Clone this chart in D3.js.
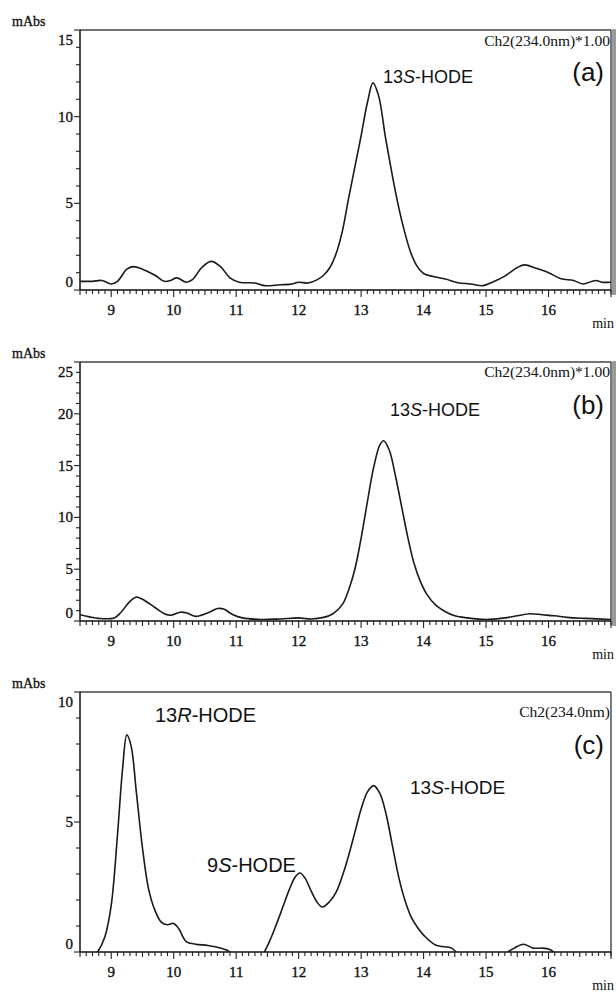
<!DOCTYPE html>
<html>
<head>
<meta charset="utf-8">
<script src="https://cdn.jsdelivr.net/npm/d3@7"></script>
<style>
  body { margin: 0; background: #fff; }
  svg { display: block; }
</style>
</head>
<body>
<div id="chart"></div>
<script>
// Chromatogram data (retention time in min, absorbance in mAbs)
const timesA  = [8.5, 8.7, 8.85, 9.0, 9.1, 9.25, 9.35, 9.5, 9.7, 9.85, 9.95, 10.05, 10.2, 10.3, 10.45, 10.6, 10.75, 10.9, 11.05, 11.3, 11.45, 11.7, 11.9, 12.0, 12.15, 12.3, 12.4, 12.5, 12.6, 12.7, 12.8, 12.9, 13.0, 13.1, 13.19, 13.28, 13.39, 13.5, 13.6, 13.7, 13.8, 13.9, 14.0, 14.15, 14.35, 14.55, 14.75, 14.95, 15.1, 15.3, 15.5, 15.62, 15.8, 16.0, 16.2, 16.4, 16.55, 16.75, 16.85, 17.0];
const valuesA = [0.5, 0.5, 0.55, 0.35, 0.5, 1.2, 1.35, 1.2, 0.85, 0.5, 0.55, 0.7, 0.45, 0.6, 1.3, 1.65, 1.35, 0.7, 0.45, 0.4, 0.25, 0.3, 0.35, 0.45, 0.4, 0.6, 0.85, 1.3, 2.1, 3.4, 5.3, 7.1, 8.9, 10.8, 11.95, 11.2, 8.8, 6.6, 4.8, 3.3, 2.1, 1.35, 0.95, 0.78, 0.63, 0.42, 0.35, 0.25, 0.45, 0.8, 1.3, 1.45, 1.25, 1.0, 0.65, 0.55, 0.35, 0.55, 0.45, 0.45];

const timesB  = [8.5, 8.65, 8.8, 9.05, 9.15, 9.3, 9.4, 9.5, 9.7, 9.85, 9.95, 10.1, 10.2, 10.35, 10.55, 10.7, 10.8, 10.95, 11.1, 11.4, 11.7, 12.0, 12.2, 12.4, 12.55, 12.7, 12.8, 12.9, 13.0, 13.1, 13.2, 13.3, 13.36, 13.45, 13.55, 13.65, 13.75, 13.85, 13.95, 14.05, 14.2, 14.35, 14.5, 14.7, 15.0, 15.3, 15.5, 15.7, 15.9, 16.1, 16.3, 16.6, 17.0];
const valuesB = [0.6, 0.4, 0.25, 0.3, 0.8, 1.9, 2.3, 2.1, 1.3, 0.7, 0.55, 0.85, 0.8, 0.45, 0.8, 1.2, 1.15, 0.6, 0.3, 0.15, 0.2, 0.3, 0.2, 0.35, 0.7, 1.6, 3.0, 5.0, 8.0, 11.5, 14.8, 17.0, 17.4, 16.5, 14.0, 11.0, 8.0, 5.5, 3.8, 2.6, 1.5, 0.9, 0.5, 0.3, 0.15, 0.3, 0.5, 0.7, 0.6, 0.5, 0.35, 0.25, 0.15];

const timesC  = [8.5, 8.7, 8.78, 8.9, 9.0, 9.1, 9.18, 9.25, 9.32, 9.4, 9.5, 9.6, 9.7, 9.8, 9.9, 10.0, 10.08, 10.2, 10.35, 10.55, 10.75, 10.9, 11.0, 11.3, 11.45, 11.55, 11.65, 11.75, 11.85, 11.95, 12.02, 12.1, 12.2, 12.3, 12.38, 12.5, 12.6, 12.75, 12.9, 13.0, 13.1, 13.2, 13.3, 13.4, 13.5, 13.6, 13.7, 13.8, 13.9, 14.0, 14.19, 14.45, 14.52, 14.6, 15.2, 15.35, 15.45, 15.6, 15.75, 15.9, 16.02, 16.08, 16.2, 17.0];
const valuesC = [-0.5, -0.2, 0, 0.6, 1.8, 4.5, 7.0, 8.35, 7.9, 6.2, 4.0, 2.4, 1.6, 1.15, 1.05, 1.1, 0.9, 0.4, 0.3, 0.25, 0.15, 0, -0.5, -0.5, 0, 0.5, 1.1, 1.75, 2.4, 2.9, 3.04, 2.85, 2.35, 1.9, 1.73, 1.95, 2.3, 3.3, 4.6, 5.5, 6.15, 6.4, 6.1, 5.3, 4.1, 2.9, 2.0, 1.35, 0.95, 0.65, 0.27, 0.15, 0, -0.3, -0.3, 0, 0.15, 0.3, 0.15, 0.15, 0.1, 0, -0.4, -0.4];

const xTickLabels = [9, 10, 11, 12, 13, 14, 15, 16];
const xDomain = [8.5, 17.0];

const panels = [
  { id: "a", top: 30,  bottom: 290, yMax: 15, times: timesA, values: valuesA, channel: "Ch2(234.0nm)*1.00", chY: 46,
    peaks: [{ pre: "13", it: "S", post: "-HODE", x: 383, y: 83, size: 18 }], tagY: 81, grayEdge: true },
  { id: "b", top: 362, bottom: 621, yMax: 25, times: timesB, values: valuesB, channel: "Ch2(234.0nm)*1.00", chY: 377,
    peaks: [{ pre: "13", it: "S", post: "-HODE", x: 390, y: 416, size: 18 }], tagY: 414, grayEdge: true },
  { id: "c", top: 692, bottom: 952, yMax: 10, times: timesC, values: valuesC, channel: "Ch2(234.0nm)", chY: 717,
    peaks: [
      { pre: "13", it: "R", post: "-HODE", x: 155, y: 722, size: 20 },
      { pre: "9",  it: "S", post: "-HODE", x: 207, y: 872, size: 20 },
      { pre: "13", it: "S", post: "-HODE", x: 410, y: 794, size: 19 }
    ], tagY: 754, grayEdge: false }
];

const W = 616, H = 995;
const left = 80, right = 611;

const svg = d3.select("#chart").append("svg")
  .attr("width", W)
  .attr("height", H);

const serif = "'Liberation Serif', 'Times New Roman', serif";
const sans = "'Liberation Sans', Arial, sans-serif";

panels.forEach(p => {
  const x = d3.scaleLinear().domain(xDomain).range([left, right]);
  const y = d3.scaleLinear().domain([0, p.yMax]).range([p.bottom, p.top]);
  const g = svg.append("g");

  // clip so the trace is cut at the axis
  g.append("clipPath").attr("id", "clip-" + p.id)
    .append("rect")
    .attr("x", left).attr("y", p.top)
    .attr("width", right - left).attr("height", p.bottom - p.top);

  // frame: top line and right edge
  g.append("line")
    .attr("x1", left).attr("x2", right)
    .attr("y1", p.top).attr("y2", p.top)
    .attr("stroke", "#444").attr("stroke-width", 1.3);
  if (p.grayEdge) {
    g.append("rect")
      .attr("x", right + 1).attr("y", p.top - 1)
      .attr("width", 4).attr("height", p.bottom - p.top + 6)
      .attr("fill", "#9a9a9a");
  }
  g.append("line")
    .attr("x1", right).attr("x2", right)
    .attr("y1", p.top).attr("y2", p.bottom + 4)
    .attr("stroke", "#333").attr("stroke-width", 1.3);

  // x axis with minor ticks every 0.1 min
  const xMinor = d3.range(85, 171).map(d => d / 10);
  const xAxis = g.append("g").attr("transform", `translate(0,${p.bottom})`);
  xAxis.append("line")
    .attr("x1", left).attr("x2", right)
    .attr("stroke", "#111").attr("stroke-width", 1.5);
  xAxis.selectAll("line.tick")
    .data(xMinor)
    .enter().append("line")
    .attr("class", "tick")
    .attr("x1", d => x(d)).attr("x2", d => x(d))
    .attr("y1", 0)
    .attr("y2", d => Math.abs(d - Math.round(d)) < 1e-6 ? 7 : (Math.abs(d * 2 - Math.round(d * 2)) < 1e-6 ? 5 : 4))
    .attr("stroke", "#222").attr("stroke-width", 1.1);
  xAxis.selectAll("text")
    .data(xTickLabels)
    .enter().append("text")
    .attr("x", d => x(d))
    .attr("y", 25)
    .attr("text-anchor", "middle")
    .style("font-family", serif)
    .style("font-size", "15px")
    .style("fill", "#111")
    .style("stroke", "#111").style("stroke-width", 0.35)
    .text(d => d);

  // y axis with minor ticks every 1 unit
  const yAxis = g.append("g");
  yAxis.append("line")
    .attr("x1", left).attr("x2", left)
    .attr("y1", p.top).attr("y2", p.bottom)
    .attr("stroke", "#111").attr("stroke-width", 1.5);
  yAxis.selectAll("line.tick")
    .data(d3.range(0, p.yMax + 1))
    .enter().append("line")
    .attr("class", "tick")
    .attr("x1", d => d % 5 === 0 ? left - 6 : left - 4).attr("x2", left)
    .attr("y1", d => y(d)).attr("y2", d => y(d))
    .attr("stroke", "#222").attr("stroke-width", 1.1);
  yAxis.selectAll("text")
    .data(d3.range(0, p.yMax + 1, 5))
    .enter().append("text")
    .attr("x", left - 7)
    .attr("y", d => y(d) + (d === 0 ? -3 : d === p.yMax ? 15 : 5))
    .attr("text-anchor", "end")
    .style("font-family", serif)
    .style("font-size", "15px")
    .style("fill", "#111")
    .style("stroke", "#111").style("stroke-width", 0.35)
    .text(d => d);

  // unit labels
  g.append("text")
    .attr("x", 12).attr("y", p.top - 4)
    .style("font-family", serif).style("font-size", "14px").style("fill", "#111")
    .style("stroke", "#111").style("stroke-width", 0.3)
    .text("mAbs");
  g.append("text")
    .attr("x", 614).attr("y", p.bottom + 38)
    .attr("text-anchor", "end")
    .style("font-family", serif).style("font-size", "14px").style("fill", "#111")
    .text("min");

  // trace
  const pts = p.times.map((t, i) => [t, p.values[i]]);
  g.append("path")
    .datum(pts)
    .attr("clip-path", `url(#clip-${p.id})`)
    .attr("fill", "none")
    .attr("stroke", "#1a1a1a")
    .attr("stroke-width", 1.6)
    .attr("stroke-linejoin", "round")
    .attr("d", d3.line()
      .x(d => x(d[0]))
      .y(d => y(d[1]))
      .curve(d3.curveCatmullRom.alpha(0.5)));

  // channel label and panel tag
  g.append("text")
    .attr("x", right - 1).attr("y", p.chY)
    .attr("text-anchor", "end")
    .style("font-family", serif).style("font-size", "15.5px").style("fill", "#111")
    .text(p.channel);
  g.append("text")
    .attr("x", 604).attr("y", p.tagY)
    .attr("text-anchor", "end")
    .style("font-family", sans).style("font-size", "26px").style("fill", "#111")
    .text(`(${p.id})`);

  // peak labels
  p.peaks.forEach(pk => {
    const t = g.append("text")
      .attr("x", pk.x).attr("y", pk.y)
      .style("font-family", sans).style("font-size", pk.size + "px").style("fill", "#111");
    t.append("tspan").text(pk.pre);
    t.append("tspan").style("font-style", "italic").text(pk.it);
    t.append("tspan").text(pk.post);
  });
});
</script>
</body>
</html>
